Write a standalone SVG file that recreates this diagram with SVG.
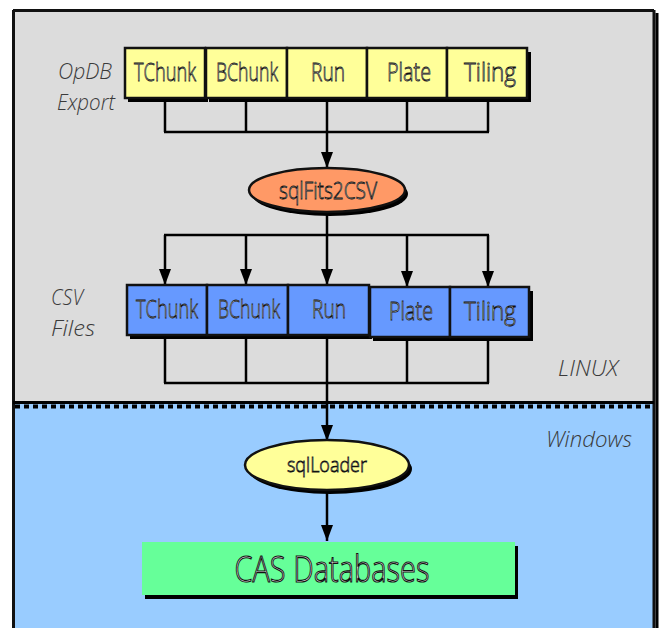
<svg xmlns="http://www.w3.org/2000/svg" width="662" height="628" viewBox="0 0 662 628">
<defs>
<marker id="ah" viewBox="0 0 16 12" refX="16" refY="6" markerWidth="16" markerHeight="12" markerUnits="userSpaceOnUse" orient="auto">
<path d="M0,0 L16,6 L0,12 z" fill="#000"/>
</marker>
<style>
.box{stroke:#111;stroke-width:2.5}
.shadow{fill:#000}
.yel{fill:#ffff99}
.blu{fill:#6699ff}
.lbl{font-family:"Open Sans","Liberation Sans",Arial,sans-serif;font-weight:300;fill:#fff;stroke:#111;stroke-width:0.8;text-anchor:middle}
.side{font-family:"Open Sans","Liberation Sans",Arial,sans-serif;font-weight:300;font-style:italic;fill:#3a3a3a;font-size:22px;text-anchor:middle}
.con{fill:none;stroke:#000;stroke-width:2.5}
.arr{fill:none;stroke:#000;stroke-width:2.5;marker-end:url(#ah)}
</style>
</defs>
<rect x="0" y="0" width="662" height="628" fill="#fff"/>
<rect x="13" y="11" width="641" height="393" fill="#dcdcdc"/>
<rect x="13" y="404" width="641" height="224" fill="#99ccff"/>
<line x1="13" y1="10.5" x2="654" y2="10.5" stroke="#111" stroke-width="3"/>
<line x1="13.5" y1="10" x2="13.5" y2="628" stroke="#111" stroke-width="3"/>
<line x1="654" y1="10" x2="654" y2="628" stroke="#111" stroke-width="3"/>
<line x1="657" y1="13" x2="657" y2="628" stroke="#000" stroke-width="3"/>
<g id="divider">
<line x1="13" y1="402.5" x2="654" y2="402.5" stroke="#000" stroke-width="3"/>
<line x1="15" y1="406.5" x2="654" y2="406.5" stroke="#000" stroke-width="4" stroke-dasharray="5,4"/>
</g>
<g id="labels">
<text class="side" x="85" y="79" textLength="54" lengthAdjust="spacingAndGlyphs">OpDB</text>
<text class="side" x="86" y="110" textLength="58" lengthAdjust="spacingAndGlyphs">Export</text>
<text class="side" x="67" y="305" textLength="32" lengthAdjust="spacingAndGlyphs">CSV</text>
<text class="side" x="73" y="336" textLength="44" lengthAdjust="spacingAndGlyphs">Files</text>
<text class="side" x="588" y="376" textLength="60" lengthAdjust="spacingAndGlyphs">LINUX</text>
<text class="side" x="589" y="447" textLength="86" lengthAdjust="spacingAndGlyphs">Windows</text>
</g>
<g id="connectors">
<path class="con" d="M165,98 V132 M246,98 V132 M407,98 V132 M488,98 V132 M164,132 H489"/>
<path class="arr" d="M327,98 V168"/>
<path class="con" d="M327,213 V235 M164,235 H489"/>
<path class="arr" d="M165,235 V285"/>
<path class="arr" d="M246,235 V285"/>
<path class="arr" d="M327,235 V285"/>
<path class="arr" d="M407,235 V287"/>
<path class="arr" d="M488,235 V287"/>
<path class="con" d="M165,335 V383 M246,335 V383 M407,337 V383 M488,337 V383 M164,383 H489"/>
<path class="arr" d="M327,335 V441"/>
<path class="arr" d="M327,491 V541"/>
</g>
<g id="opdb-tchunk">
<rect class="shadow" x="128" y="52" width="80" height="50"/>
<rect class="box yel" x="125" y="48" width="80" height="50"/>
<text class="lbl" x="165" y="81" font-size="26" textLength="62" lengthAdjust="spacingAndGlyphs">TChunk</text>
</g>
<g id="opdb-bchunk">
<rect class="shadow" x="209" y="52" width="82" height="50"/>
<rect class="box yel" x="206" y="48" width="81" height="50"/>
<text class="lbl" x="247" y="81" font-size="26" textLength="62" lengthAdjust="spacingAndGlyphs">BChunk</text>
</g>
<g id="opdb-run">
<rect class="shadow" x="290" y="52" width="80" height="50"/>
<rect class="box yel" x="287" y="48" width="80" height="50"/>
<text class="lbl" x="328" y="81" font-size="26" textLength="34" lengthAdjust="spacingAndGlyphs">Run</text>
</g>
<g id="opdb-plate">
<rect class="shadow" x="370" y="52" width="80" height="50"/>
<rect class="box yel" x="367" y="48" width="80" height="50"/>
<text class="lbl" x="409" y="81" font-size="26" textLength="44" lengthAdjust="spacingAndGlyphs">Plate</text>
</g>
<g id="opdb-tiling">
<rect class="shadow" x="450" y="52" width="81" height="50"/>
<rect class="box yel" x="447" y="48" width="80" height="50"/>
<text class="lbl" x="490" y="81" font-size="26" textLength="52" lengthAdjust="spacingAndGlyphs">Tiling</text>
</g>
<g id="sqlfits2csv">
<ellipse cx="330" cy="194" rx="78" ry="22" fill="#000"/>
<ellipse cx="327" cy="190" rx="78" ry="22" fill="#ff9966" stroke="#111" stroke-width="2.5"/>
<text class="lbl" x="328" y="199" font-size="24" textLength="98" lengthAdjust="spacingAndGlyphs">sqlFits2CSV</text>
</g>
<g id="csv-tchunk">
<rect class="shadow" x="130" y="289" width="80" height="50"/>
<rect class="box blu" x="127" y="285" width="80" height="50"/>
<text class="lbl" x="167" y="318" font-size="26" textLength="62" lengthAdjust="spacingAndGlyphs">TChunk</text>
</g>
<g id="csv-bchunk">
<rect class="shadow" x="210" y="289" width="81" height="50"/>
<rect class="box blu" x="207" y="285" width="81" height="50"/>
<text class="lbl" x="249" y="318" font-size="26" textLength="62" lengthAdjust="spacingAndGlyphs">BChunk</text>
</g>
<g id="csv-run">
<rect class="shadow" x="291" y="289" width="81" height="50"/>
<rect class="box blu" x="288" y="285" width="81" height="50"/>
<text class="lbl" x="329" y="318" font-size="26" textLength="34" lengthAdjust="spacingAndGlyphs">Run</text>
</g>
<g id="csv-plate">
<rect class="shadow" x="373" y="291" width="80" height="50"/>
<rect class="box blu" x="370" y="287" width="80" height="50"/>
<text class="lbl" x="411" y="320" font-size="26" textLength="44" lengthAdjust="spacingAndGlyphs">Plate</text>
</g>
<g id="csv-tiling">
<rect class="shadow" x="453" y="291" width="80" height="50"/>
<rect class="box blu" x="450" y="287" width="79" height="50"/>
<text class="lbl" x="490" y="320" font-size="26" textLength="52" lengthAdjust="spacingAndGlyphs">Tiling</text>
</g>
<g id="sqlloader">
<ellipse cx="330" cy="469" rx="82" ry="25" fill="#000"/>
<ellipse cx="327" cy="465" rx="82" ry="25" fill="#ffff99" stroke="#111" stroke-width="2.5"/>
<text class="lbl" x="327" y="472" font-size="21" textLength="80" lengthAdjust="spacingAndGlyphs">sqlLoader</text>
</g>
<g id="cas-databases">
<rect x="145" y="546" width="373" height="53" fill="#000"/>
<rect x="142" y="542" width="373" height="53" fill="#66ff99"/>
<text class="lbl" x="332" y="582" font-size="36" textLength="195" lengthAdjust="spacingAndGlyphs" style="stroke-width:1.1">CAS Databases</text>
</g>
</svg>
